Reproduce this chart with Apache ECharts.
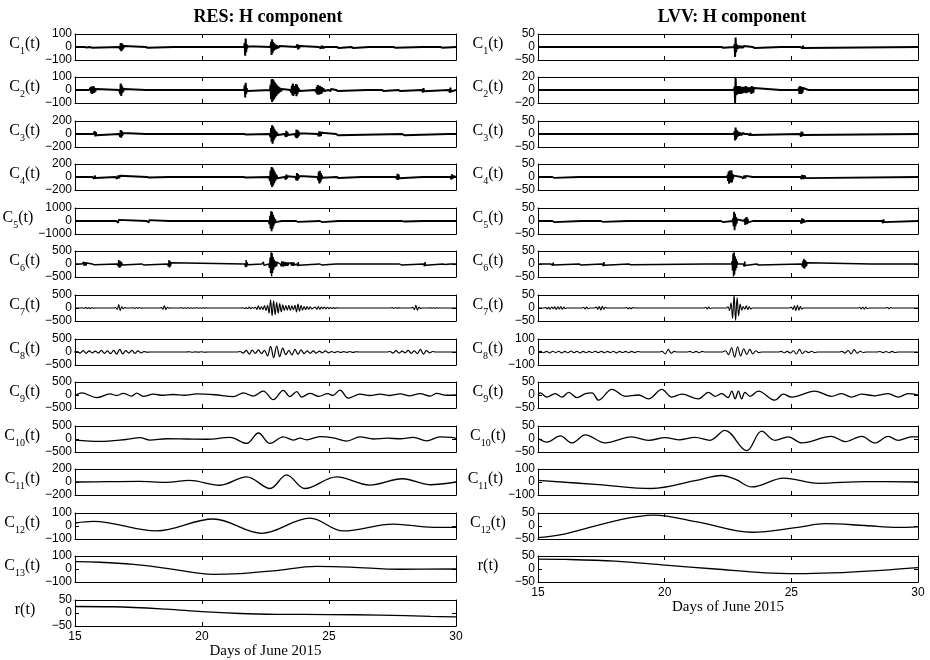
<!DOCTYPE html>
<html>
<head>
<meta charset="utf-8">
<title>RES / LVV H component decomposition</title>
<script src="https://cdn.jsdelivr.net/npm/echarts/dist/echarts.min.js"></script>
<style>
  html, body { margin: 0; padding: 0; background: #fff; }
  #main { width: 930px; height: 660px; }
</style>
</head>
<body>
<div id="main"></div>
<script>
// ---- Axis ticks -------------------------------------------------------
const dayTicks = [15, 20, 25, 30];           // Days of June 2015

// ---- RES station: panel labels and y limits ---------------------------
const resLabels = ['C_1','C_2','C_3','C_4','C_5','C_6','C_7','C_8','C_9','C_10','C_11','C_12','C_13','r'];
const resLimits = [100, 100, 200, 200, 1000, 500, 500, 500, 500, 500, 200, 100, 100, 50];

// ---- LVV station: panel labels and y limits ---------------------------
const lvvLabels = ['C_1','C_2','C_3','C_4','C_5','C_6','C_7','C_8','C_9','C_10','C_11','C_12','r'];
const lvvLimits = [50, 20, 50, 50, 50, 50, 50, 100, 50, 50, 100, 50, 50];

// Oscillatory components: each burst is [start day, successive sample values]
// RES
const resC1 = [
  [15.40, [5,-5,4,-4]],
  [15.60, [6,-6,5,-5,6,-5]],
  [16.76, [12,-18,30,-33,28,-25,18,-12,8,-6]],
  [17.80, [6,-7,8,-6,5]],
  [18.90, [4,-5,4]],
  [21.68, [30,-67,65,-40,20,-10,6]],
  [22.72, [40,-62,60,-45,38,-30,28,-22,20,-18,15,-14,12,-10,10,-8,8,-6]],
  [23.72, [10,-15,20,-18,15,-12,8,-6]],
  [24.62, [8,-10,12,-10,9,-12,10,-8,6]],
  [24.86, [8,-8,6]],
  [25.33, [8,-12,10,-8,6]],
  [25.90, [10,-14,12,-8]],
  [26.60, [5,-5,4]],
  [27.55, [6,-8,7,-5]],
  [28.70, [5,-6,4]],
  [29.40, [6,-8,7,-5]]
];
const resC2 = [
  [15.58, [10,-15,20,-25,28,-30,25,-22,28,-20,15,-12,8,-6,5]],
  [16.76, [15,-30,50,-45,35,-25,18,-12,8,-6]],
  [17.80, [6,-7,6]],
  [18.62, [8,-10,7]],
  [19.75, [7,-8,6]],
  [21.68, [35,-58,55,-30,15,-8]],
  [22.70, [40,-70,82,-92,85,-80,75,-70,62,-58,50,-45,40,-35,30,-28,25,-20,18,-15,12,-10,8]],
  [23.50, [15,-20,35,-40,50,-45,30,-25,20,-30,45,-48,40,-30,20,-15,10,-8]],
  [24.48, [12,-18,25,-35,38,-36,30,-35,32,-28,25,-30,22,-18,15,-12,10,-8,6]],
  [25.00, [8,-10,8,-9,7]],
  [25.30, [8,-10,9,-8]],
  [26.50, [6,-8,6]],
  [27.10, [10,-12,10,-8]],
  [27.75, [8,-10,10,-8]],
  [28.68, [15,-18,15,-10]],
  [29.74, [15,-20,18,-12]]
];
const resC3 = [
  [15.74, [15,-30,40,-38,30,-20,10]],
  [16.76, [20,-45,60,-55,45,-30,15,-8]],
  [17.80, [10,-15,12]],
  [18.72, [10,-12,10]],
  [21.68, [12,-15,12,-8]],
  [22.68, [20,-50,90,-120,133,-148,120,-100,85,-70,55,-45,35,-28,20,-15]],
  [23.28, [25,-45,50,-40,30,-15]],
  [23.68, [30,-55,70,-65,60,-50,40,-25,12]],
  [24.58, [20,-35,40,-38,35,-30,20,-10]],
  [25.30, [15,-25,28,-20,10]],
  [27.90, [12,-22,25,-18,8]],
  [29.72, [8,-14,12]]
];
const resC4 = [
  [15.70, [15,-25,28,-25,22,-15,8]],
  [16.60, [12,-22,25,-25,20,-22,25,-20,18,-12,6]],
  [17.85, [10,-15,12,-8]],
  [18.70, [8,-10,8]],
  [21.66, [10,-15,12,-8]],
  [22.66, [30,-60,100,-120,155,-154,140,-130,110,-95,80,-65,50,-40,30,-20]],
  [23.28, [20,-40,35,-25,10]],
  [23.70, [30,-50,60,-55,45,-30,15]],
  [24.56, [20,-50,80,-100,95,-80,60,-40,25,-12]],
  [25.32, [10,-18,20,-15,8]],
  [26.30, [10,-12,8]],
  [27.66, [20,-35,50,-45,35,-20,10]],
  [28.70, [8,-10,8]],
  [29.80, [20,-35,40,-30,15]]
];
const resC5 = [
  [15.50, [50,-60,40]],
  [16.64, [60,-120,150,-130,80,-40]],
  [17.84, [80,-140,150,-120,60]],
  [18.72, [40,-60,40]],
  [21.20, [30,-40,30]],
  [22.64, [100,-250,400,-600,740,-790,700,-600,480,-380,280,-200,140,-90,50]],
  [23.16, [40,-60,50]],
  [23.72, [60,-100,90,-70,30]],
  [24.66, [60,-120,110,-80,40]],
  [25.40, [40,-60,50]],
  [27.90, [50,-80,70,-40]],
  [28.75, [30,-50,40]]
];
const resC6 = [
  [15.30, [30,-60,80,-70,60,-50,70,-60,40,-30,20]],
  [15.70, [30,-50,40,-30]],
  [16.68, [40,-80,150,-140,120,-130,100,-80,60,-40,20]],
  [17.66, [30,-60,50,-40,20]],
  [18.66, [40,-100,150,-130,110,-90,50,-20]],
  [21.70, [50,-120,150,-100,60,-30]],
  [22.38, [30,-60,80,-50,20]],
  [22.64, [60,-150,250,-350,450,-470,420,-350,280,-220,170,-130,110,-100,90,-80,70]],
  [23.10, [60,-80,100,-90,80,-100,90,-70,60,-80,70,-60,50,-70,60,-50,40,-30]],
  [23.50, [40,-60,70,-60,50,-70,60,-40,30]],
  [23.75, [50,-80,70,-50]],
  [24.66, [30,-60,50,-40,20]],
  [25.30, [25,-40,30]],
  [27.80, [30,-60,55,-40,20]],
  [28.74, [40,-80,70,-50,20]],
  [29.50, [20,-40,30,-20]],
  [29.80, [20,-35,25]]
];
const resC7 = [
  [15.30, [10,-20,25,-20,15,-25,20,-10]],
  [16.60, [20,-60,130,-100,50,-30,15]],
  [17.30, [10,-20,20,-15,20,-10]],
  [18.40, [20,-50,80,-60,30,-10]],
  [19.20, [8,-12,10,-12,10,-8,10,-8]],
  [19.80, [10,-8,10,-8,8,-6,8]],
  [21.62, [10,-20,15,-30,40,-30,20,-10,30,-50,80,-60,50,-60,90,-100,100,-200,320,-300,280,-260,220,-200,170,-150,120,-100,90,-80,100,-90,80,-70,100,-150,150,-120,100,-80,60,-60,60,-50,50,-40]],
  [24.46, [40,-50,60,-50,40,-30,40,-35,30,-25,20,-20,15,-15,10]],
  [27.50, [15,-20,20,-15,10]],
  [28.30, [30,-60,100,-80,40,-15]],
  [29.00, [10,-12,10,-10,8]]
];
const resC8 = [
  [15.08, [20,-40,50,-50,40,-30,30,-40,60,-50,40,-60,60,-80,100,-70,50,-40,60,-50,40,-30,20,-10]],
  [19.50, [10,-10,8,-8,10,-10]],
  [21.50, [20,-40,60,-80,70,-50,80,-60,60,-150,215,-215,230,-180,150,-100,60,-110,100,-90,80,-60,40,-50,40,-40,30,-35,40,-30,20,-25,20,-20,15,-15,20,-15,10]],
  [27.40, [20,-40,50,-40,30,-30,60,-50,40,-60,100,-80,50,-30,20]]
];
// Smooth components: [day, value]
const resC9 = [[15.0,-20],[15.26,80],[15.85,-100],[16.38,40],[16.64,-20],[16.9,60],[17.23,-40],[17.43,70],[17.69,-50],[18.08,30],[18.48,-10],[18.87,20],[19.3,-10],[19.8,40],[20.5,10],[21.24,-60],[21.63,80],[22.02,-40],[22.41,150],[22.81,-180],[23.2,180],[23.46,-60],[23.73,130],[23.92,-80],[24.25,60],[24.6,-50],[24.95,50],[25.15,-20],[25.43,190],[25.76,-120],[26.22,30],[26.61,-20],[27.01,30],[27.4,-20],[27.8,40],[28.19,-30],[28.58,50],[28.98,-40],[29.24,60],[29.63,-10],[30,0]];
const resC10 = [[15,-40],[15.98,-90],[17.0,-20],[17.56,50],[17.95,-40],[18.6,10],[19.4,0],[20.2,-10],[21.1,60],[21.76,-170],[22.22,230],[22.68,-170],[23.2,80],[23.6,-40],[23.86,30],[24.12,-30],[24.65,90],[25.17,40],[25.7,-80],[26.22,80],[26.75,0],[27.3,30],[27.8,10],[28.32,60],[28.84,-70],[29.37,80],[29.83,60],[30,20]];
const resC11 = [[15,0],[16.3,5],[17.5,10],[18.6,-5],[19.5,25],[20.7,-50],[21.76,80],[22.68,-100],[23.33,110],[24.05,-100],[25.3,80],[26.6,-47],[27.9,50],[28.97,-42],[30,0]];
const resC12 = [[15,23],[15.72,35],[18.21,-38],[20.45,54],[22.35,-56],[24.25,61],[25.56,-38],[27.53,15],[29.11,-10],[30,-10]];
const resC13 = [[15,56],[15.98,52],[17.3,35],[18.6,5],[20.45,-41],[21.5,-35],[22.8,-15],[24.51,20],[25.83,15],[27.8,-2],[30,0]];
const resR = [[15,25],[16.5,24],[18.6,15],[20,5],[21.5,-2],[23,-5],[25,-6],[27,-8],[29,-13],[30,-15]];

// LVV
const lvvC1 = [
  [15.50, [2,-2,2]],
  [22.26, [3,-4,3,-3]],
  [22.76, [10,-38,36,-20,10,-8,6,-6,5,-5,6,-5,5,-4,4,-5,4,-4,4,-3]],
  [23.50, [4,-5,4,-4,3]],
  [24.60, [4,-4,3]],
  [25.38, [5,-7,6,-6,5,-4,3]]
];
const lvvC2 = [
  [17.62, [2,-3,2]],
  [21.70, [2,-3,2]],
  [22.20, [3,-3,2]],
  [22.76, [5,-20,20,-8,6,-7,6,-6,5,-6,6,-5,5,-6,5,-4,5,-5,4,-4,5,-4,6,-5,5,-4,3,-3,4,-3]],
  [23.40, [4,-6,6,-5,5,-4,3]],
  [24.60, [3,-3,2]],
  [25.30, [4,-6,6,-6,5,-6,5,-4,3]],
  [25.70, [3,-3,2]]
];
const lvvC3 = [
  [21.70, [4,-5,4]],
  [22.76, [10,-25,25,-20,15,-12,10,-8,8,-7,6,-6,5,-6,5,-4,4,-3,4,-3]],
  [23.30, [5,-6,5,-5,4,-4]],
  [25.36, [6,-10,9,-8,6,-4]]
];
const lvvC4 = [
  [15.58, [3,-4,4,-3]],
  [16.64, [3,-3,2]],
  [17.56, [3,-4,3]],
  [18.55, [2,-3,2]],
  [21.70, [3,-4,3]],
  [22.48, [8,-15,20,-26,25,-20,15,-22,26,-20,12,-8,5]],
  [23.05, [5,-6,5,-6,5,-5,6,-5,4]],
  [23.50, [3,-4,3]],
  [24.30, [3,-3,2]],
  [25.38, [6,-8,8,-8,7,-8,7,-6,5,-4]]
];
const lvvC5 = [
  [15.58, [4,-6,5,-4]],
  [16.72, [3,-4,3]],
  [17.50, [4,-5,4,-3]],
  [18.56, [2,-3,2]],
  [21.72, [4,-5,4]],
  [22.24, [4,-6,5,-4]],
  [22.70, [10,-20,35,-35,28,-20,15,-10,6]],
  [23.16, [8,-15,12,-10,15,-12,8,-5]],
  [23.50, [4,-5,4]],
  [24.30, [3,-4,3]],
  [25.38, [6,-10,10,-8,8,-6,5,-4,3,-3,2]],
  [28.60, [5,-8,6,-4]]
];
const lvvC6 = [
  [15.52, [4,-5,4,-5,5,-4,3]],
  [16.64, [3,-5,5,-4]],
  [17.56, [5,-8,7,-5]],
  [18.60, [4,-6,5,-3]],
  [21.70, [4,-5,4]],
  [22.22, [4,-5,4]],
  [22.66, [10,-25,40,-48,45,-40,30,-25,20,-15,10]],
  [23.12, [6,-10,9,-6]],
  [23.65, [4,-6,5,-4]],
  [25.42, [5,-10,12,-15,20,-18,15,-12,10,-8,5]],
  [28.20, [3,-4,3]]
];
const lvvC7 = [
  [15.30, [3,-4,3,-5,4,-3,5,-6,5,-4,6,-5,4,-3]],
  [16.80, [3,-4,4,-3]],
  [17.30, [4,-5,6,-8,7,-5,3]],
  [18.50, [2,-3,2,-3,2]],
  [21.62, [3,-4,4,-3]],
  [22.50, [5,-10,20,-40,50,-48,40,-30,15,-8,6,-5,8,-6,5,-4]],
  [25.00, [4,-6,8,-10,10,-8,6,-4]],
  [27.70, [3,-4,4,-5,4,-3]],
  [28.80, [2,-3,2]]
];
const lvvC8 = [
  [15.10, [5,-6,5,-8,6,-5,6,-7,5,-6,8,-5,6,-7,5,-6,5,-4,6,-5,6,-6,5,-5,6,-7,5,-4,5,-6,5,-5,4]],
  [19.90, [5,-15,20,-10,5]],
  [21.00, [5,-6,5,-6,5]],
  [22.40, [10,-20,35,-40,40,-30,25,-20,20,-15,10,-5]],
  [24.60, [5,-6,5,-8,10,-15,20,-12,8,-5,6,-5]],
  [27.00, [5,-8,12,-15,18,-10,6,-4]],
  [28.50, [4,-5,4,-6,5,-4]]
];
const lvvC9 = [[15,0],[15.09,8],[15.35,-8],[15.68,5],[15.95,-8],[16.21,10],[16.54,-10],[16.87,5],[17.13,8],[17.39,-20],[17.92,22],[18.44,-5],[18.97,0],[19.36,-15],[19.89,22],[20.28,-8],[20.68,3],[21.33,-15],[21.73,10],[21.99,-5],[22.25,5],[22.5,-10],[22.65,15],[22.78,-15],[22.91,15],[23.04,-15],[23.17,10],[23.37,-5],[23.7,15],[24.35,-20],[24.68,3],[25.01,-8],[25.93,15],[26.59,-5],[26.98,5],[27.38,-8],[27.77,3],[28.3,-3],[28.82,5],[29.22,-8],[29.61,5],[30,0]];
const lvvC10 = [[15,3],[15.35,-12],[15.88,12],[16.34,-15],[16.87,16],[17.65,-15],[18.7,8],[19.36,-5],[20.02,5],[20.55,-3],[21.2,6],[21.79,-5],[22.38,33],[23.24,-45],[23.83,30],[24.35,-5],[24.88,8],[25.41,-15],[26.59,10],[27.12,-10],[27.77,10],[28.3,-15],[28.82,10],[29.22,-5],[29.74,8],[30,8]];
const lvvC11 = [[15,12],[17.4,-20],[19.49,-50],[21.2,10],[22.25,50],[22.8,20],[23.44,-38],[24.7,30],[26.07,-10],[27.9,3],[30,0]];
const lvvC12 = [[15,-45],[16.08,-30],[18.05,20],[19.56,42],[21.33,15],[23.44,-24],[25.27,-5],[26.33,9],[27.9,2],[29.2,-5],[30,-3]];
const lvvR = [[15,38],[16.08,37],[18.05,30],[20.02,15],[21.99,0],[23.96,-15],[25.27,-18],[26.59,-15],[28.56,-5],[30,5]];

// ---- Layout --------------------------------------------------------------
const PANEL_TOP = 33.5, PANEL_PITCH = 43.58, PANEL_H = 26;
const COLS = [{ left: 75, width: 381 }, { left: 538, width: 380 }];
const SERIF = '"Liberation Serif", "DejaVu Serif", serif';
const SANS = '"Liberation Sans", Arial, sans-serif';
const CURVE_SMOOTH = 0.36;

// Turn a list of bursts into a line that rests on zero between them
function fromBursts(bursts, step) {
  const pts = [[dayTicks[0], 0]];
  bursts.forEach(([start, vals]) => {
    pts.push([start - step, 0]);
    vals.forEach((v, k) => pts.push([start + k * step, v]));
    pts.push([start + vals.length * step, 0]);
  });
  pts.push([dayTicks[dayTicks.length - 1], 0]);
  return pts;
}

const resPanels = [
  { data: fromBursts(resC1, 0.02), width: 2 },
  { data: fromBursts(resC2, 0.02), width: 2 },
  { data: fromBursts(resC3, 0.02), width: 2 },
  { data: fromBursts(resC4, 0.02), width: 2 },
  { data: fromBursts(resC5, 0.02), width: 1.8 },
  { data: fromBursts(resC6, 0.02), width: 1.4 },
  { data: fromBursts(resC7, 0.06), width: 1.1, smooth: true },
  { data: fromBursts(resC8, 0.12), width: 1.2, smooth: true },
  { data: resC9, width: 1.3, smooth: true },
  { data: resC10, width: 1.3, smooth: true },
  { data: resC11, width: 1.3, smooth: true },
  { data: resC12, width: 1.3, smooth: true },
  { data: resC13, width: 1.3, smooth: true },
  { data: resR, width: 1.3, smooth: true }
];
const lvvPanels = [
  { data: fromBursts(lvvC1, 0.02), width: 2 },
  { data: fromBursts(lvvC2, 0.02), width: 2 },
  { data: fromBursts(lvvC3, 0.02), width: 2 },
  { data: fromBursts(lvvC4, 0.02), width: 1.8 },
  { data: fromBursts(lvvC5, 0.02), width: 1.8 },
  { data: fromBursts(lvvC6, 0.02), width: 1.5 },
  { data: fromBursts(lvvC7, 0.06), width: 1.1, smooth: true },
  { data: fromBursts(lvvC8, 0.12), width: 1.1, smooth: true },
  { data: lvvC9, width: 1.3, smooth: true },
  { data: lvvC10, width: 1.3, smooth: true },
  { data: lvvC11, width: 1.3, smooth: true },
  { data: lvvC12, width: 1.3, smooth: true },
  { data: lvvR, width: 1.3, smooth: true }
];

function richName(label) {
  if (label.indexOf('_') < 0) return '{m|' + label + '(t)}';
  const parts = label.split('_');
  return '{m|' + parts[0] + '}{s|' + parts[1] + '}{m|(t)}';
}
const minus = v => (v < 0 ? '\u2212' + (-v) : String(v));

const grids = [], xAxes = [], yAxes = [], series = [];
const black = { color: '#000', width: 1 };

function addPanel(col, i, isLast, label, limit, panel) {
  const gi = grids.length;
  const c = COLS[col];
  grids.push({ left: c.left, top: Math.round(PANEL_TOP + i * PANEL_PITCH), width: c.width, height: PANEL_H, show: false });
  const xBase = {
    gridIndex: gi, type: 'value', min: dayTicks[0], max: dayTicks[dayTicks.length - 1], interval: 5,
    axisLine: { show: true, onZero: false, lineStyle: black },
    axisTick: { show: true, inside: true, length: 4, lineStyle: black },
    splitLine: { show: false }
  };
  xAxes.push(Object.assign({}, xBase, {
    position: 'bottom',
    axisLabel: { show: isLast, margin: 5, color: '#000', fontFamily: SANS, fontSize: 12 },
    name: isLast ? 'Days of June 2015' : '', nameLocation: 'middle', nameGap: 17,
    nameTextStyle: { fontFamily: SERIF, fontSize: 15, color: '#000', verticalAlign: 'top' }
  }));
  xAxes.push(Object.assign({}, xBase, { position: 'top', axisLabel: { show: false } }));
  const yBase = {
    gridIndex: gi, type: 'value', min: -limit, max: limit, interval: limit,
    axisLine: { show: true, onZero: false, lineStyle: black },
    axisTick: { show: true, inside: true, length: 4, lineStyle: black },
    splitLine: { show: false }
  };
  yAxes.push(Object.assign({}, yBase, {
    position: 'left',
    axisLabel: { show: true, margin: 3, color: '#000', fontFamily: SANS, fontSize: 12,
                 showMinLabel: true, showMaxLabel: true, formatter: minus },
    name: richName(label), nameLocation: 'middle', nameRotate: 0, nameGap: 50,
    nameTextStyle: {
      align: 'center', verticalAlign: 'middle', padding: [0, 0, 6, 0],
      rich: {
        m: { fontFamily: SERIF, fontSize: 16, color: '#000', lineHeight: 24, verticalAlign: 'middle' },
        s: { fontFamily: SERIF, fontSize: 10, color: '#000', verticalAlign: 'bottom' }
      }
    }
  }));
  yAxes.push(Object.assign({}, yBase, { position: 'right', axisLabel: { show: false } }));
  series.push({
    type: 'line', xAxisIndex: 2 * gi, yAxisIndex: 2 * gi, data: panel.data,
    symbol: 'none', showSymbol: false, silent: true, animation: false,
    smooth: panel.smooth ? CURVE_SMOOTH : false,
    lineStyle: { color: '#000', width: panel.width }, z: 1
  });
}

resPanels.forEach((p, i) => addPanel(0, i, i === resPanels.length - 1, resLabels[i], resLimits[i], p));
lvvPanels.forEach((p, i) => addPanel(1, i, i === lvvPanels.length - 1, lvvLabels[i], lvvLimits[i], p));

const chart = echarts.init(document.getElementById('main'), null, { renderer: 'canvas' });
chart.setOption({
  backgroundColor: '#fff',
  animation: false,
  grid: grids,
  xAxis: xAxes,
  yAxis: yAxes,
  series: series,
  graphic: [
    { type: 'text', x: 268, y: 17, style: { text: 'RES: H component', font: 'bold 18px ' + SERIF, fill: '#000', align: 'center', verticalAlign: 'middle' } },
    { type: 'text', x: 732, y: 17, style: { text: 'LVV: H component', font: 'bold 18px ' + SERIF, fill: '#000', align: 'center', verticalAlign: 'middle' } }
  ]
});
</script>
</body>
</html>
